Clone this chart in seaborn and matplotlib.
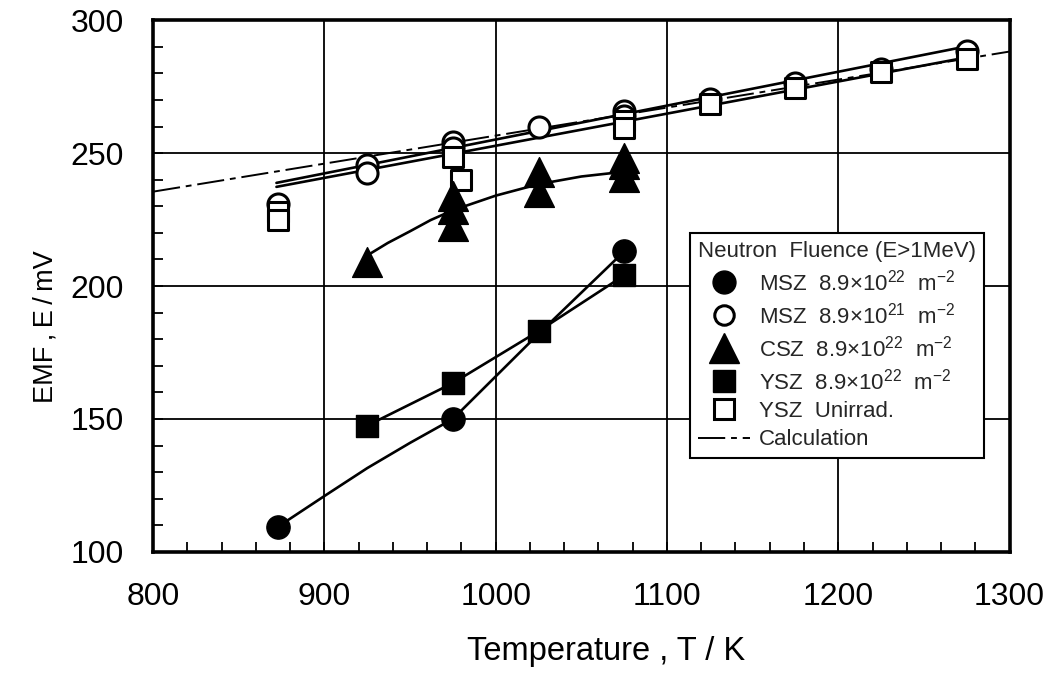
import matplotlib
matplotlib.use("Agg")
import matplotlib.pyplot as plt
import seaborn as sns
from matplotlib.lines import Line2D
from matplotlib.ticker import MultipleLocator

# --- data ---
msz22_T = [873, 975, 1075]
msz22_E = [109.5, 150, 213]
msz22_curve_T = [873, 900, 925, 950, 975, 1025, 1075]
msz22_curve_E = [109.5, 121, 131.5, 141, 150, 182, 213]

msz21_T = [873, 925, 925, 975, 975, 1025, 1075, 1075, 1125, 1175, 1225, 1275]
msz21_E = [231, 245.5, 242.5, 254, 252, 260, 266, 264, 270.5, 276.5, 281.5, 288.5]

csz_T = [925, 975, 975, 975, 1025, 1025, 1075, 1075, 1075]
csz_E = [209, 234, 229, 222.5, 243, 235.5, 248, 246, 241]
csz_curve_T = [925, 937, 950, 962, 975, 1000, 1025, 1050, 1075]
csz_curve_E = [211.5, 216.2, 220.6, 224.8, 228.5, 234, 238.3, 241.2, 243]

ysz22_T = [925, 975, 1025, 1075]
ysz22_E = [147.5, 163.5, 183, 204]

yszun_T = [873, 873, 975, 980, 1075, 1075, 1125, 1175, 1225, 1275]
yszun_E = [228, 225, 248.5, 240, 262, 259.5, 268.5, 274.5, 280.5, 285.5]

fit_T = [872, 1280]
fit_msz21_E = [238.8, 290.8]
fit_yszun_E = [237.3, 286.6]

calc_T = [800, 1300]
calc_E = [235.5, 288.2]

legend_title = "Neutron  Fluence (E>1MeV)"
labels = [
    "MSZ  8.9×10$^{22}$  m$^{-2}$",
    "MSZ  8.9×10$^{21}$  m$^{-2}$",
    "CSZ  8.9×10$^{22}$  m$^{-2}$",
    "YSZ  8.9×10$^{22}$  m$^{-2}$",
    "YSZ  Unirrad.",
    "Calculation",
]

sns.set_style("ticks")
plt.rcParams["font.family"] = ["Liberation Sans", "DejaVu Sans"]
plt.rcParams["mathtext.fontset"] = "custom"
plt.rcParams["mathtext.rm"] = "Liberation Sans"
plt.rcParams["mathtext.it"] = "Liberation Sans:italic"

fig, ax = plt.subplots(figsize=(10.56, 6.73), dpi=100)
fig.subplots_adjust(left=0.145, right=0.956, top=0.970, bottom=0.180)

calc_dash = (0, (14, 3, 3, 3))
lw = 1.9

# lines
sns.lineplot(x=calc_T, y=calc_E, color="black", lw=1.4, linestyle=calc_dash, ax=ax)
sns.lineplot(x=fit_T, y=fit_msz21_E, color="black", lw=lw, ax=ax)
sns.lineplot(x=fit_T, y=fit_yszun_E, color="black", lw=lw, ax=ax)
sns.lineplot(x=msz22_curve_T, y=msz22_curve_E, color="black", lw=lw, sort=False, ax=ax)
sns.lineplot(x=csz_curve_T, y=csz_curve_E, color="black", lw=lw, sort=False, ax=ax)
sns.lineplot(x=ysz22_T, y=ysz22_E, color="black", lw=lw, sort=False, ax=ax)

# markers
sns.scatterplot(x=msz21_T, y=msz21_E, marker="o", s=230, color="white",
                edgecolor="black", linewidth=2.2, zorder=3, ax=ax)
sns.scatterplot(x=yszun_T, y=yszun_E, marker="s", s=210, color="white",
                edgecolor="black", linewidth=2.2, zorder=4, ax=ax)
sns.scatterplot(x=csz_T, y=csz_E, marker="^", s=460, color="black",
                edgecolor="black", linewidth=1, zorder=4, ax=ax)
sns.scatterplot(x=ysz22_T, y=ysz22_E, marker="s", s=250, color="black",
                edgecolor="black", linewidth=1, zorder=4, ax=ax)
sns.scatterplot(x=msz22_T, y=msz22_E, marker="o", s=280, color="black",
                edgecolor="black", linewidth=1, zorder=4, ax=ax)

ax.set_xlim(800, 1300)
ax.set_ylim(100, 300)
ax.xaxis.set_major_locator(MultipleLocator(100))
ax.xaxis.set_minor_locator(MultipleLocator(20))
ax.yaxis.set_major_locator(MultipleLocator(50))
ax.yaxis.set_minor_locator(MultipleLocator(10))
ax.tick_params(which="both", direction="in", length=7, width=1.3, color="black",
               labelsize=23, labelcolor="black")
ax.tick_params(axis="y", pad=21)
ax.tick_params(axis="x", pad=22)
ax.grid(True, which="major", color="black", lw=1.3)
ax.set_axisbelow(True)
for sp in ax.spines.values():
    sp.set_linewidth(2.6)
    sp.set_color("black")

ax.set_xlabel("Temperature , T / K", fontsize=23.5, color="black")
ax.set_ylabel("EMF\u2009,\u2009E\u2009/\u2009mV", fontsize=19.5, color="black")
ax.xaxis.set_label_coords(0.529, -0.158)
ax.yaxis.set_label_coords(-0.111, 0.423)

handles = [
    Line2D([], [], ls="none", marker="o", ms=16.5, mfc="black", mec="black"),
    Line2D([], [], ls="none", marker="o", ms=14, mfc="white", mec="black", mew=2.2),
    Line2D([], [], ls="none", marker="^", ms=21, mfc="black", mec="black"),
    Line2D([], [], ls="none", marker="s", ms=15.5, mfc="black", mec="black"),
    Line2D([], [], ls="none", marker="s", ms=14, mfc="white", mec="black", mew=2.2),
    Line2D([], [], color="black", lw=1.4, linestyle=calc_dash),
]
leg = ax.legend(handles, labels, title=legend_title, loc="upper left",
                bbox_to_anchor=(0.6266, 0.5996), borderaxespad=0, fontsize=16,
                title_fontsize=16, frameon=True, fancybox=False, framealpha=1,
                edgecolor="black", handlelength=2.35, handletextpad=0.4,
                labelspacing=0.32, borderpad=0.36)
leg.get_frame().set_linewidth(1.5)
leg._legend_box.align = "left"

fig.savefig("out.png", dpi=100)
